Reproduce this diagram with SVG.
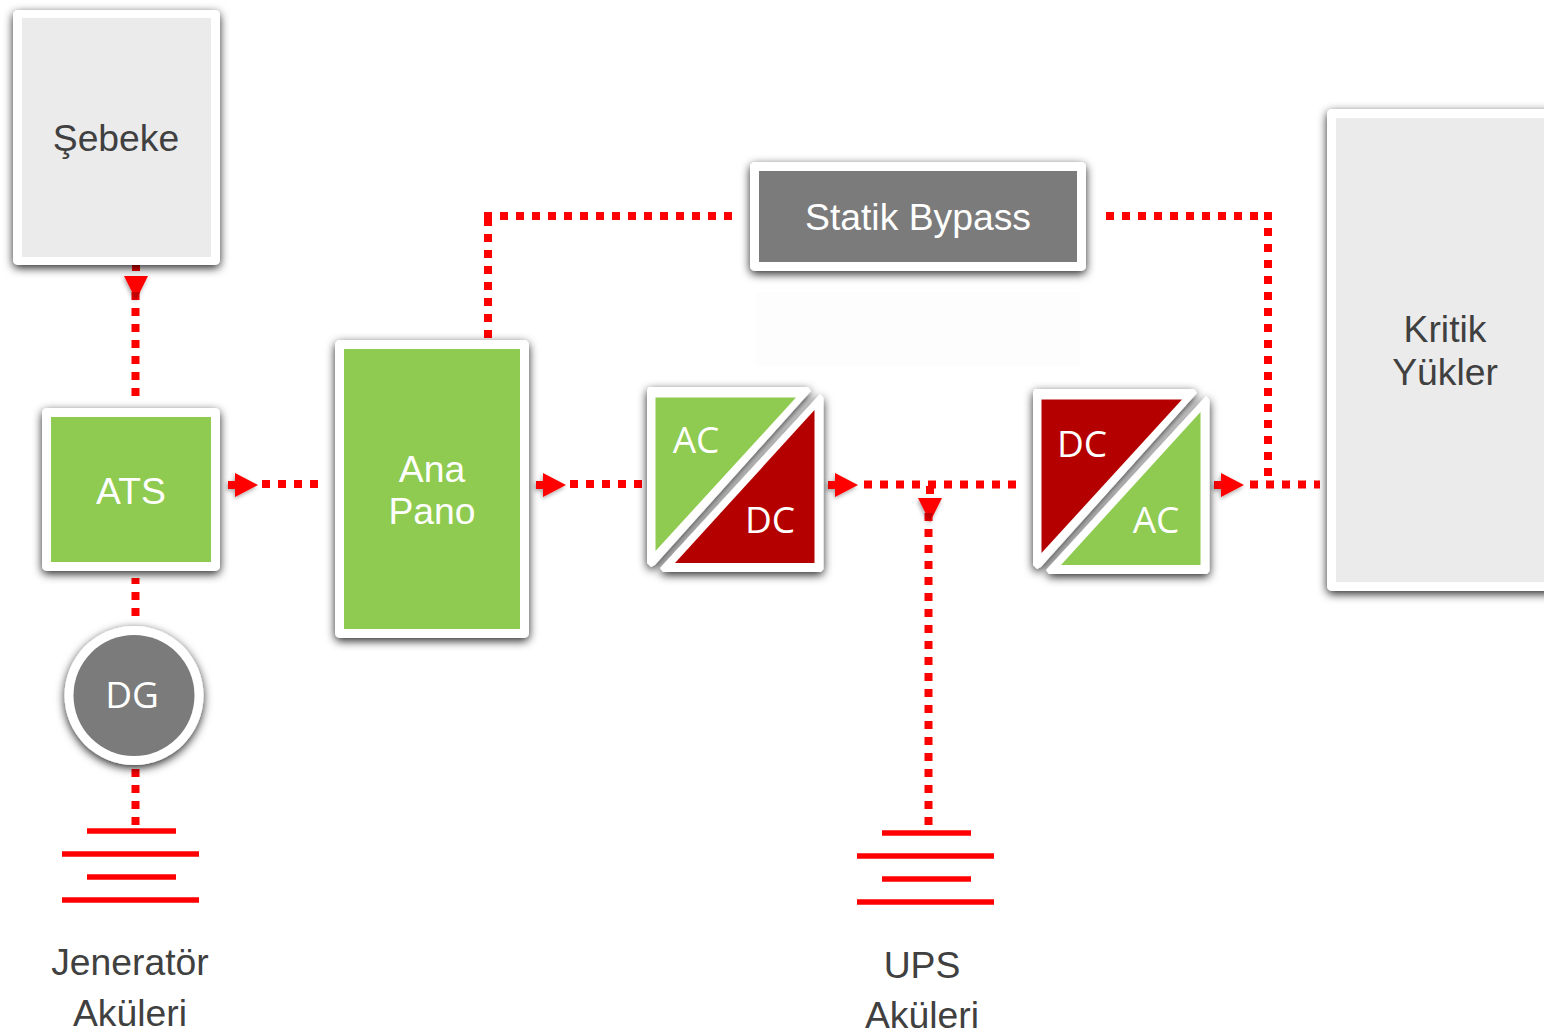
<svg xmlns="http://www.w3.org/2000/svg" width="1544" height="1031" viewBox="0 0 1544 1031">
<defs>
<filter id="sh" x="-20%" y="-20%" width="140%" height="140%"><feDropShadow dx="0" dy="3" stdDeviation="5" flood-color="#000" flood-opacity="0.85"/></filter>
<filter id="as" x="-40%" y="-40%" width="180%" height="180%"><feDropShadow dx="-1" dy="2" stdDeviation="2" flood-color="#000" flood-opacity="0.35"/></filter>
<polygon id="ah" points="0,-12 23,0 0,12 0,4 -7,4 -7,-4 0,-4" fill="#f00" filter="url(#as)"/>
<polygon id="ad" points="-12,0 12,0 0,24" fill="#f00" filter="url(#as)"/>
</defs>
<style>
.o{fill:#fff;filter:url(#sh)}
.g{fill:#8ecb50}.r{fill:#b50000}.d{fill:#7b7b7b}.l{fill:#ebebeb}
text{font-family:"Liberation Sans",Arial,sans-serif;font-size:37.300px;text-anchor:middle}
.w{fill:#fff}.k{fill:#404040}
.c{font-family:"Open Sans","Noto Sans",sans-serif;font-size:37px;fill:#fff}
.dot{stroke:#f00;stroke-width:8;stroke-dasharray:8 8;fill:none}
.bat{stroke:#f00;stroke-width:5.500;fill:none}
.dk{fill:#c00000}
</style>
<rect width="1544" height="1031" fill="#fff"/>
<rect x="756" y="292" width="324" height="74" fill="#fdfdfd"/>
<g id="connectors">
<line class="dot" x1="136" y1="263" x2="136" y2="271"/>
<line class="dot" x1="135.500" y1="396" x2="135.500" y2="292"/>
<line class="dot" x1="135.500" y1="616" x2="135.500" y2="578"/>
<line class="dot" x1="135.500" y1="825" x2="135.500" y2="769"/>
<line class="dot" x1="262" y1="484" x2="318" y2="484"/>
<line class="dot" x1="570" y1="484" x2="642" y2="484"/>
<line class="dot" x1="864" y1="484.500" x2="1016" y2="484.500"/>
<line class="dot" x1="930" y1="486" x2="930" y2="494"/>
<line class="dot" x1="928.500" y1="825" x2="928.500" y2="513"/>
<line class="dot" x1="1250" y1="484.500" x2="1320" y2="484.500"/>
<line class="dot" x1="488" y1="338" x2="488" y2="218"/>
<line class="dot" x1="484" y1="216" x2="732" y2="216"/>
<line class="dot" x1="1106" y1="216" x2="1272" y2="216"/>
<line class="dot" x1="1268" y1="212" x2="1268" y2="476"/>
<use href="#ad" transform="translate(136,276)"/>
<polygon class="dk" points="132,292 140,292 136,300" />
<use href="#ah" transform="translate(235,485)"/>
<use href="#ah" transform="translate(543,485)"/>
<use href="#ah" transform="translate(835,485)"/>
<use href="#ad" transform="translate(930,498)"/>
<polygon class="dk" points="925,513 933,513 930,521"/>
<use href="#ah" transform="translate(1221,485)"/>
</g>
<g id="sebeke"><rect class="o" x="13" y="10" width="207" height="255" rx="5"/><rect class="l" x="22" y="18" width="189" height="239"/><text class="k" x="116" y="151">Şebeke</text></g>
<g id="ats"><rect class="o" x="42" y="408" width="178" height="163" rx="5"/><rect class="g" x="51" y="417" width="160" height="145"/><text class="w" x="131" y="504">ATS</text></g>
<g id="dg"><circle cx="134" cy="695.500" r="69.500" class="o"/><circle cx="134" cy="695.500" r="60.500" class="d"/><text class="c" x="132" y="708">DG</text></g>
<g id="ana"><rect class="o" x="335" y="340" width="194" height="298" rx="5"/><rect class="g" x="344" y="349" width="176" height="280"/><text class="w" x="432" y="482">Ana</text><text class="w" x="432" y="524">Pano</text></g>
<g id="bypass"><rect class="o" x="750" y="162" width="336" height="109" rx="5"/><rect class="d" x="759" y="171" width="318" height="91"/><text class="w" x="918" y="230">Statik Bypass</text></g>
<g id="kritik"><rect class="o" x="1327" y="109" width="240" height="482" rx="5"/><rect class="l" x="1336" y="118" width="220" height="464"/><text class="k" x="1445" y="342">Kritik</text><text class="k" x="1445" y="385">Yükler</text></g>
<g id="rect1">
<polygon class="o" points="647,390 649,387 808,387 811,391 655,565 651,567 647,563"/>
<polygon class="g" points="655.500,397.500 796,397.500 655.500,551"/>
<polygon class="o" points="820,394 823.500,398 823.500,569 821,572 663,572 660,568"/>
<polygon class="r" points="814.500,410 814.500,563 675,563"/>
<text class="c" x="696" y="453">AC</text><text class="c" x="770" y="533">DC</text>
</g>
<g id="rect2">
<polygon class="o" points="1033,392 1035,389 1194,389 1197,393 1041,567 1037,569 1033,565"/>
<polygon class="r" points="1041.500,399.500 1182,399.500 1041.500,553"/>
<polygon class="o" points="1206,396 1209.500,400 1209.500,571 1207,574 1049,574 1046,570"/>
<polygon class="g" points="1200.500,412 1200.500,565 1061,565"/>
<text class="c" x="1082" y="457">DC</text><text class="c" x="1156" y="533">AC</text>
</g>
<g id="bat1" class="bat"><line x1="87" y1="831" x2="176" y2="831"/><line x1="62" y1="854" x2="199" y2="854"/><line x1="87" y1="877" x2="176" y2="877"/><line x1="62" y1="900" x2="199" y2="900"/></g>
<g id="bat2" class="bat"><line x1="882" y1="833" x2="971" y2="833"/><line x1="857" y1="856" x2="994" y2="856"/><line x1="882" y1="879" x2="971" y2="879"/><line x1="857" y1="902" x2="994" y2="902"/></g>
<g id="lbl1"><text class="k" x="130" y="975">Jeneratör</text><text class="k" x="130" y="1026">Aküleri</text></g>
<g id="lbl2"><text class="k" x="922" y="978">UPS</text><text class="k" x="922" y="1028">Aküleri</text></g>
</svg>
